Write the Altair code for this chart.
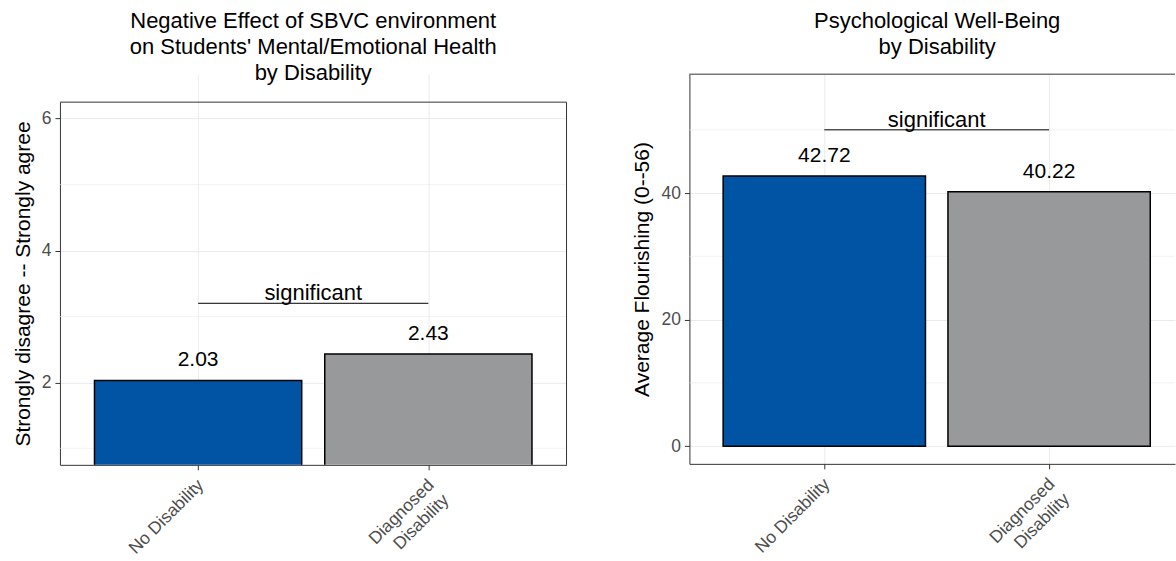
import altair as alt
import pandas as pd

# ---------------- data ----------------
categories = ["No Disability", "Diagnosed Disability"]
tick_labels = ["No Disability", "Diagnosed\nDisability"]
positions = [1, 2]
bar_colors = ["#0054a3", "#98999b"]

left_values = [2.03, 2.43]
right_values = [42.72, 40.22]

left_title = ["Negative Effect of SBVC environment",
              "on Students' Mental/Emotional Health",
              "by Disability"]
right_title = ["Psychological Well-Being", "by Disability"]
left_ytitle = "Strongly disagree -- Strongly agree"
right_ytitle = "Average Flourishing (0--56)"

left_major = [2, 4, 6]
left_minor = [1, 3, 5]
right_major = [0, 20, 40]
right_minor = [10, 30, 50]

left_sig = 3.2
right_sig = 50
sig_label = "significant"

FONT = "Liberation Sans"
BORDER = "#333333"
GRID = "#ebebeb"


def label_expr():
    expr = "''"
    for pos, lab in reversed(list(zip(positions, tick_labels))):
        lines = lab.split("\n")
        if len(lines) > 1:
            js = "[" + ", ".join("'" + l + "'" for l in lines) + "]"
        else:
            js = "'" + lab + "'"
        expr = f"datum.value == {pos} ? {js} : ({expr})"
    return expr


def panel(values, ydomain, major, minor, sig_y, title, ytitle,
          width, height, yrange, xdomain, right_border, title_offset, title_dx):
    df = pd.DataFrame({
        "pos": positions,
        "lo": [p - 0.45 for p in positions],
        "hi": [p + 0.45 for p in positions],
        "y": values,
        "cat": categories,
        "txt": [f"{v:.2f}" for v in values],
    })
    minor_df = pd.DataFrame({"y": minor})
    sig_df = pd.DataFrame({
        "x1": [positions[0]], "x2": [positions[1]],
        "mid": [(positions[0] + positions[1]) / 2],
        "y": [sig_y], "txt": [sig_label],
    })

    xs = alt.Scale(domain=xdomain, nice=False, zero=False)
    ys = alt.Scale(domain=ydomain, range=yrange, nice=False, zero=False)

    x_axis = alt.Axis(
        title=None, values=positions, labelExpr=label_expr(),
        grid=True, gridColor=GRID, gridWidth=1,
        labelAngle=-45, labelAlign="right", labelBaseline="top",
        labelFont=FONT, labelFontSize=17.5, labelColor="#4d4d4d",
        labelPadding=6, labelOffset=-4, labelOverlap=False, labelFlush=False,
        labelLineHeight=21,
        tickSize=5, tickColor=BORDER, tickWidth=1,
        domain=True, domainColor=BORDER, domainWidth=1,
    )
    y_axis = alt.Axis(
        title=ytitle, values=major, format="d",
        grid=True, gridColor=GRID, gridWidth=1,
        titleFont=FONT, titleFontSize=21, titleFontWeight="normal",
        titleColor="black", titlePadding=8,
        labelFont=FONT, labelFontSize=17.5, labelColor="#4d4d4d",
        labelPadding=4, labelFlush=False, labelOverlap=False,
        tickSize=5, tickColor=BORDER, tickWidth=1,
        domain=True, domainColor=BORDER, domainWidth=1,
    )

    minor_rules = alt.Chart(minor_df).mark_rule(
        color=GRID, strokeWidth=0.6
    ).encode(y=alt.Y("y:Q", scale=ys, axis=y_axis))

    bars = alt.Chart(df).mark_bar(
        stroke="black", strokeWidth=1.5, clip=True
    ).encode(
        x=alt.X("lo:Q", scale=xs, axis=x_axis),
        x2="hi:Q",
        y=alt.Y("y:Q", scale=ys, axis=y_axis),
        y2=alt.datum(0),
        color=alt.Color("cat:N", scale=alt.Scale(domain=categories, range=bar_colors),
                        legend=None),
    )

    labels = alt.Chart(df).mark_text(
        dy=-20, fontSize=21, font=FONT, color="black", baseline="middle"
    ).encode(
        x=alt.X("pos:Q", scale=xs, axis=x_axis),
        y=alt.Y("y:Q", scale=ys, axis=y_axis),
        text="txt:N",
    )

    sig_rule = alt.Chart(sig_df).mark_rule(color="black", strokeWidth=1).encode(
        x=alt.X("x1:Q", scale=xs, axis=x_axis),
        x2="x2:Q",
        y=alt.Y("y:Q", scale=ys, axis=y_axis),
    )
    sig_text = alt.Chart(sig_df).mark_text(
        dy=-10, fontSize=22, font=FONT, color="black", baseline="middle"
    ).encode(
        x=alt.X("mid:Q", scale=xs, axis=x_axis),
        y=alt.Y("y:Q", scale=ys, axis=y_axis),
        text="txt:N",
    )

    # panel border: top edge (left/bottom come from axis domains)
    top = alt.Chart(sig_df).mark_rule(color=BORDER, strokeWidth=1).encode(
        y=alt.datum(ydomain[1]))
    layers = [minor_rules, bars, labels, sig_rule, sig_text, top]
    if right_border:
        right = alt.Chart(sig_df).mark_rule(color=BORDER, strokeWidth=1).encode(
            x=alt.datum(xdomain[1]), y=alt.datum(ydomain[0]), y2=alt.datum(ydomain[1]))
        layers.append(right)

    return alt.layer(*layers).properties(
        width=width, height=height,
        view=alt.ViewBackground(stroke="transparent"),
        title=alt.TitleParams(
            text=title, fontSize=22, font=FONT, fontWeight="normal",
            color="black", anchor="middle", frame="group",
            lineHeight=26, offset=title_offset, dx=title_dx,
        ),
    )


left = panel(left_values, [0.75, 6.25], left_major, left_minor, left_sig,
             left_title, left_ytitle, 507, 391, [391, 28], [0.4, 2.6], True, -11, 0)
right = panel(right_values, [-2.8, 58.8], right_major, right_minor, right_sig,
              right_title, right_ytitle, 486, 390, [390, 0], [0.4, 2.56], False, 15, 5)

chart = alt.hconcat(left, right, spacing=64).properties(
    padding={"left": 11, "top": 9, "right": 0, "bottom": 0},
    background="white",
)

chart.save("out.html", embed_options={"renderer": "svg", "actions": False})
